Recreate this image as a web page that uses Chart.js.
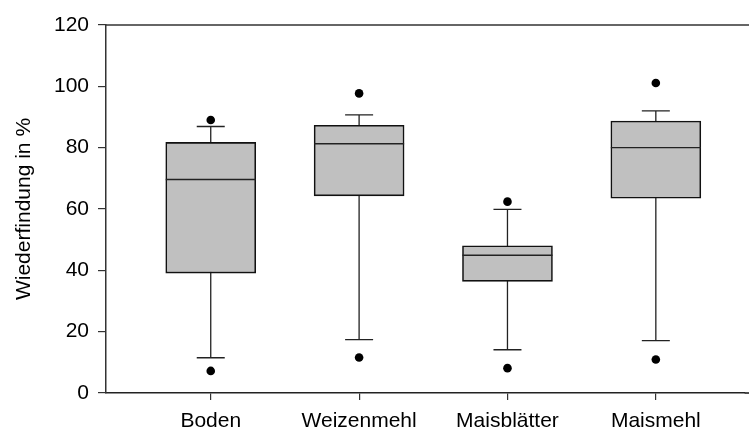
<!DOCTYPE html>
<html>
<head>
<meta charset="utf-8">
<script src="https://cdn.jsdelivr.net/npm/chart.js@4.4.0/dist/chart.umd.min.js"></script>
<style>
  html, body { margin: 0; padding: 0; background: #fff; }
</style>
</head>
<body>
<canvas id="chart" width="749" height="433"></canvas>
<script>
// values
const categories = ['Boden', 'Weizenmehl', 'Maisblätter', 'Maismehl'];
const q1 = [39.1, 64.3, 36.4, 63.5];
const median = [69.6, 81.3, 44.9, 80.0];
const q3 = [81.7, 87.3, 48.0, 88.7];
const whiskerLow = [11.5, 17.4, 14.1, 17.1];
const whiskerHigh = [86.9, 90.7, 59.9, 92.0];
const outlierLow = [7.2, 11.6, 8.1, 10.9];
const outlierHigh = [89.0, 97.7, 62.4, 101.1];
const yTicks = [0, 20, 40, 60, 80, 100, 120];

const positions = categories.map((c, i) => i + 1);

// whiskers behind the boxes, medians and frame lines on top
const boxPlotLines = {
    id: 'boxPlotLines',
    beforeDatasetsDraw(chart) {
        const ctx = chart.ctx;
        const xs = chart.scales.x, ys = chart.scales.y;
        ctx.save();
        ctx.strokeStyle = '#222';
        ctx.lineWidth = 1.3;
        positions.forEach((p, i) => {
            const x = xs.getPixelForValue(p);
            const yLo = ys.getPixelForValue(whiskerLow[i]);
            const yHi = ys.getPixelForValue(whiskerHigh[i]);
            ctx.beginPath();
            ctx.moveTo(x, yLo);
            ctx.lineTo(x, yHi);
            ctx.moveTo(x - 14, yLo);
            ctx.lineTo(x + 14, yLo);
            ctx.moveTo(x - 14, yHi);
            ctx.lineTo(x + 14, yHi);
            ctx.stroke();
        });
        ctx.restore();
    },
    afterDatasetsDraw(chart) {
        const ctx = chart.ctx;
        const xs = chart.scales.x, ys = chart.scales.y;
        const area = chart.chartArea;
        ctx.save();
        ctx.strokeStyle = '#222';
        ctx.lineWidth = 1.4;
        positions.forEach((p, i) => {
            const x = xs.getPixelForValue(p);
            const y = ys.getPixelForValue(median[i]);
            ctx.beginPath();
            ctx.moveTo(x - 45, y);
            ctx.lineTo(x + 45, y);
            ctx.stroke();
        });
        // frame runs off the right edge in the original
        ctx.strokeStyle = '#333';
        ctx.lineWidth = 1.5;
        ctx.beginPath();
        ctx.moveTo(area.left, area.top);
        ctx.lineTo(chart.width, area.top);
        ctx.stroke();
        ctx.strokeStyle = '#222';
        ctx.lineWidth = 1.6;
        ctx.beginPath();
        ctx.moveTo(area.right, area.bottom);
        ctx.lineTo(chart.width, area.bottom);
        ctx.stroke();
        ctx.restore();
    }
};

const tickFont = { family: 'Liberation Sans, Arial, sans-serif', size: 21 };

new Chart(document.getElementById('chart'), {
    data: {
        datasets: [
            {
                type: 'bar',
                data: positions.map((p, i) => ({ x: p, y: [q1[i], q3[i]] })),
                backgroundColor: '#c0c0c0',
                borderColor: '#111',
                borderWidth: 1.6,
                borderSkipped: false,
                barThickness: 90,
                order: 2
            },
            {
                type: 'scatter',
                data: positions.map((p, i) => ({ x: p, y: outlierLow[i] }))
                    .concat(positions.map((p, i) => ({ x: p, y: outlierHigh[i] }))),
                backgroundColor: '#000',
                borderColor: '#000',
                pointRadius: 4.3,
                borderWidth: 0,
                order: 1
            }
        ]
    },
    options: {
        responsive: false,
        animation: false,
        devicePixelRatio: 1,
        layout: { padding: { left: 0, top: 25, right: 0, bottom: 0 } },
        plugins: {
            legend: { display: false },
            tooltip: { enabled: false }
        },
        scales: {
            x: {
                type: 'linear',
                offset: false,
                min: 0.294,
                max: 4.599,
                afterBuildTicks(scale) {
                    scale.ticks = positions.map(v => ({ value: v }));
                },
                afterFit(scale) {
                    scale.height = 40;
                },
                ticks: {
                    callback: v => categories[v - 1],
                    font: tickFont,
                    color: '#000',
                    padding: 9,
                    maxRotation: 0,
                    autoSkip: false
                },
                grid: {
                    offset: false,
                    drawOnChartArea: false,
                    drawTicks: true,
                    tickLength: 7,
                    color: '#333',
                    lineWidth: 1.2
                },
                border: { display: true, color: '#222', width: 1.6 }
            },
            y: {
                min: 0,
                max: 120,
                afterBuildTicks(scale) {
                    scale.ticks = yTicks.map(v => ({ value: v }));
                },
                afterFit(scale) {
                    scale.width = 106;
                },
                ticks: {
                    font: tickFont,
                    color: '#000',
                    padding: 9
                },
                grid: {
                    drawOnChartArea: false,
                    drawTicks: true,
                    tickLength: 8,
                    color: '#333',
                    lineWidth: 1.2
                },
                border: { display: true, color: '#333', width: 1.5 },
                title: {
                    display: true,
                    text: 'Wiederfindung in %',
                    font: tickFont,
                    color: '#000',
                    padding: { top: 12, bottom: 0 }
                }
            }
        }
    },
    plugins: [boxPlotLines]
});
</script>
</body>
</html>
